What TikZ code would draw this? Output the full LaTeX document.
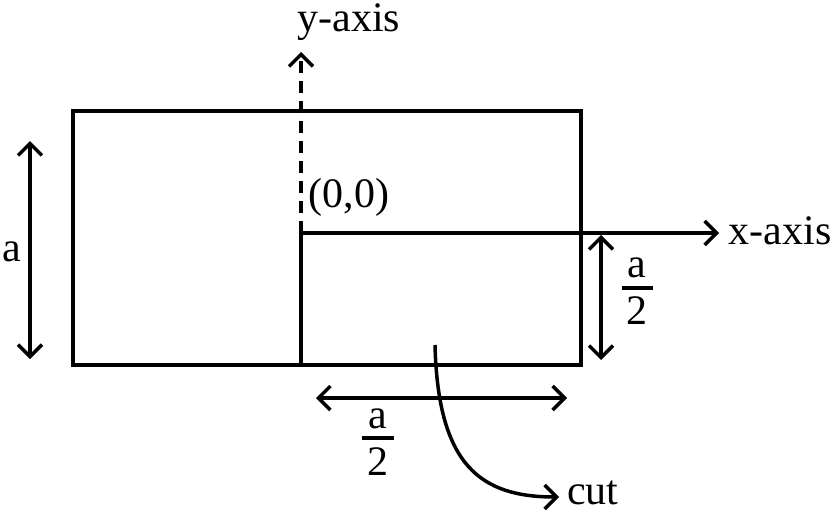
\documentclass[tikz,border=0pt]{standalone}
\usepackage{fontspec}
\setmainfont{Liberation Serif}
\usetikzlibrary{arrows.meta}
\begin{document}
\begin{tikzpicture}[x=1pt,y=-1pt,
  lbl/.style={inner sep=0pt,font=\fontsize{42}{46}\selectfont},
  thick3/.style={line width=3.5pt},
  bar/.style={line width=3.5pt},
  tip/.style={-{Straight Barb[length=12pt,width=24pt,line width=3.5pt]}},
  dtip/.style={{Straight Barb[length=12pt,width=24pt,line width=3.5pt]}-{Straight Barb[length=12pt,width=24pt,line width=3.5pt]}}]
\useasboundingbox (0,0) rectangle (832,514);
% rectangle corners
\coordinate (tl) at (73,111);
\coordinate (br) at (581,365);
\coordinate (o) at (301,233);
\coordinate (ob) at (301,365);
\coordinate (xe) at (719,233);
\coordinate (ye) at (301,52);
\draw[thick3] (tl) rectangle (br);
\draw[thick3] (ob) -- (o);
\draw[thick3,tip] (o) -- (xe);
\draw[thick3,tip,dash pattern=on 12pt off 8pt] (o) -- (ye);
% labels
\node[lbl] (ylab) at (349,22) {y-axis};
\node[lbl] (xlab) at (780,231) {x-axis};
\node[lbl] (olab) at (349,197) {(0,0)};
% dimension a
\coordinate (a1) at (30,141);
\coordinate (a2) at (30,359);
\draw[thick3,dtip] (a1) -- (a2);
\node[lbl] (alab) at (12,252) {a};
% right a/2
\coordinate (r1) at (601,235);
\coordinate (r2) at (601,360);
\draw[thick3,dtip] (r1) -- (r2);
\node[lbl] (rnum) at (637,268) {a};
\coordinate (rb1) at (622,288);
\coordinate (rb2) at (653,288);
\draw[bar] (rb1) -- (rb2);
\node[lbl] (rden) at (637,311) {2};
% bottom a/2
\coordinate (b1) at (316,398);
\coordinate (b2) at (567,398);
\draw[thick3,dtip] (b1) -- (b2);
\node[lbl] (bnum) at (378,419) {a};
\coordinate (bb1) at (362,438);
\coordinate (bb2) at (394,438);
\draw[bar] (bb1) -- (bb2);
\node[lbl] (bden) at (378,462) {2};
% cut
\coordinate (c1) at (435,345);
\coordinate (c2) at (559,497);
\node[lbl,anchor=west] (cut) at (567,493) {cut};
\draw[thick3,tip] (c1) .. controls (438,465) and (480,497) .. (c2);
\end{tikzpicture}
\end{document}
